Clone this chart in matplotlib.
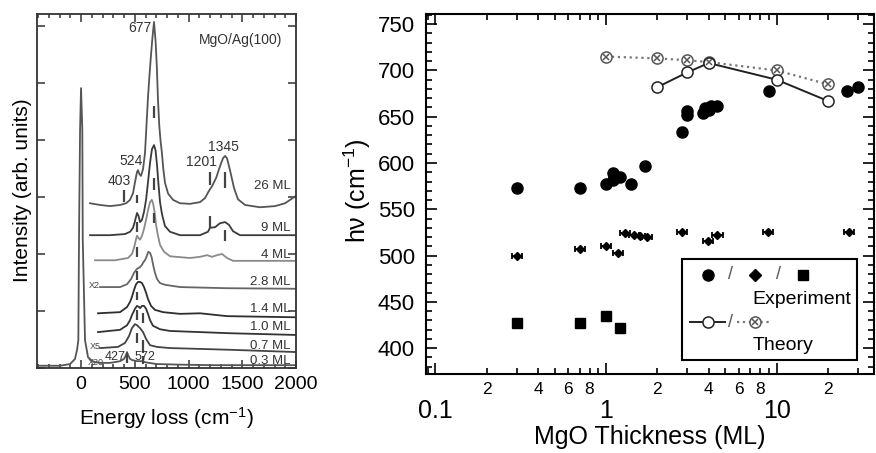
import numpy as np
import matplotlib
matplotlib.use('Agg')
import matplotlib.pyplot as plt
from matplotlib.patches import Rectangle
from matplotlib.ticker import MultipleLocator, LogLocator, FuncFormatter, NullFormatter

plt.rcParams['font.family'] = ['Liberation Sans', 'DejaVu Sans']
plt.rcParams['mathtext.fontset'] = 'custom'
plt.rcParams['mathtext.rm'] = 'Liberation Sans'
plt.rcParams['mathtext.it'] = 'Liberation Sans:italic'
plt.rcParams['mathtext.bf'] = 'Liberation Sans:bold'

# ---- left panel: loss spectra (energy loss in cm-1, offset intensity in arb. units)
E_03 = [-410, -195, -102, -56, -37, -25, -19, -9, 0, 12, 16, 37, 65, 112, 177, 270, 363, 400,
        419, 428, 437, 456, 475, 521, 572, 600, 700, 900, 1200, 1500, 2000]
I_03 = [0.04, 0.04, 0.07, 0.16, 0.32, 0.49, 2.25, 4.18, 4.91, 4.18, 2.25, 0.49, 0.19, 0.11, 0.09,
        0.09, 0.12, 0.16, 0.23, 0.28, 0.23, 0.16, 0.14, 0.12, 0.12, 0.10, 0.07, 0.06, 0.05, 0.05, 0.05]

E_07 = [177, 344, 409, 446, 474, 502, 521, 549, 577, 605, 642, 707, 828, 1386, 2000]
I_07 = [0.35, 0.37, 0.44, 0.56, 0.70, 0.77, 0.75, 0.70, 0.63, 0.51, 0.40, 0.37, 0.35, 0.32, 0.28]

E_10 = [158, 363, 428, 456, 474, 502, 521, 540, 549, 567, 586, 605, 623, 642, 670, 735, 828, 1386, 2000]
I_10 = [0.63, 0.67, 0.75, 0.84, 0.93, 1.04, 1.09, 1.07, 1.05, 1.09, 1.09, 1.04, 0.95, 0.84, 0.74,
        0.68, 0.65, 0.61, 0.58]

E_14 = [158, 363, 428, 456, 474, 493, 512, 530, 549, 567, 586, 605, 623, 651, 688, 763, 921, 1107, 1358, 2000]
I_14 = [0.96, 0.98, 1.07, 1.16, 1.25, 1.37, 1.47, 1.51, 1.51, 1.49, 1.42, 1.32, 1.21, 1.09, 1.02,
        0.98, 0.95, 0.96, 0.91, 0.89]

E_28 = [177, 363, 428, 465, 493, 521, 549, 567, 581, 595, 611, 626, 642, 656, 673, 688, 707, 735,
        781, 921, 1358, 2000]
I_28 = [1.42, 1.42, 1.47, 1.56, 1.67, 1.74, 1.77, 1.81, 1.86, 1.89, 1.96, 2.04, 2.02, 1.95, 1.79,
        1.67, 1.56, 1.49, 1.46, 1.42, 1.40, 1.39]

E_4 = [130, 316, 437, 474, 493, 512, 521, 535, 549, 567, 586, 605, 623, 642, 658, 670, 684, 698,
       716, 735, 772, 828, 1014, 1107, 1172, 1219, 1265, 1312, 1358, 1414, 2000]
I_4 = [1.89, 1.89, 1.93, 2.00, 2.11, 2.26, 2.32, 2.28, 2.25, 2.32, 2.44, 2.60, 2.77, 2.91, 2.95,
       2.89, 2.74, 2.51, 2.32, 2.16, 2.04, 1.96, 1.93, 1.95, 1.98, 1.95, 1.98, 2.00, 1.93, 1.88, 1.88]

E_9 = [84, 270, 409, 456, 484, 502, 521, 535, 549, 567, 586, 605, 623, 642, 660, 679, 693, 707,
       721, 735, 753, 781, 828, 921, 1107, 1181, 1200, 1247, 1293, 1340, 1377, 1414, 1479, 2000]
I_9 = [2.33, 2.33, 2.35, 2.39, 2.46, 2.58, 2.72, 2.67, 2.56, 2.60, 2.74, 2.95, 3.26, 3.60, 3.84,
       3.91, 3.82, 3.56, 3.21, 2.91, 2.70, 2.49, 2.39, 2.33, 2.33, 2.39, 2.46, 2.47, 2.54, 2.56,
       2.51, 2.40, 2.33, 2.33]

E_26 = [84, 177, 270, 363, 419, 456, 484, 502, 521, 530, 544, 558, 577, 595, 609, 623, 637, 651,
        665, 679, 693, 705, 716, 728, 740, 751, 765, 781, 810, 856, 921, 1014, 1107, 1153, 1191,
        1219, 1256, 1293, 1321, 1340, 1358, 1386, 1423, 1460, 1526, 1665, 1805, 1898, 2000]
I_26 = [2.89, 2.86, 2.84, 2.86, 2.89, 2.95, 3.07, 3.26, 3.44, 3.47, 3.40, 3.37, 3.49, 3.77, 4.26,
        4.75, 5.14, 5.49, 5.81, 6.07, 5.75, 5.30, 4.70, 4.25, 3.98, 3.80, 3.50, 3.25, 3.06, 2.95,
        2.89, 2.88, 2.91, 2.98, 3.11, 3.19, 3.33, 3.54, 3.68, 3.72, 3.68, 3.47, 3.16, 2.96, 2.86,
        2.82, 2.84, 2.89, 3.02]

# short vertical marks at the assigned losses
mark_e = [400, 521, 679, 1200, 1340, 521, 679, 1200, 1340, 521, 679, 521, 521, 521, 572, 521, 572, 428, 572]
mark_lo = [2.91, 2.89, 4.39, 3.21, 3.16, 2.39, 3.12, 2.46, 2.23, 1.95, 2.54, 1.54, 1.19, 0.84, 0.79,
           0.44, 0.26, 0.09, 0.07]
mark_hi = [3.12, 3.04, 4.60, 3.44, 3.44, 2.56, 3.33, 2.67, 2.42, 2.12, 2.72, 1.70, 1.33, 1.02, 0.96,
           0.61, 0.49, 0.26, 0.21]

peak_labels = ['677', '524', '403', '1201', '1345', '427', '572']
peak_label_e = [549, 465, 353, 1116, 1321, 316, 595]
peak_label_i = [5.96, 3.63, 3.28, 3.61, 3.88, 0.19, 0.19]

ml_labels = ['26 ML', '9 ML', '4 ML', '2.8 ML', '1.4 ML', '1.0 ML', '0.7 ML', '0.3 ML']
ml_label_i = [3.19, 2.46, 1.98, 1.51, 1.04, 0.72, 0.39, 0.12]

gain_labels = ['X2', 'X5', 'X20']
gain_label_e = [121, 130, 140]
gain_label_i = [1.44, 0.37, 0.09]

# ---- right panel: mode energy vs MgO thickness
thick_circ = [0.3, 0.7, 1.0, 1.1, 1.1, 1.2, 1.4, 1.7, 2.8, 3.0, 3.0, 3.7, 3.8, 4.0, 4.1, 4.5, 9.0, 26, 30]
hv_circ = [573, 573, 577, 589, 582, 585, 577, 597, 633, 652, 656, 654, 659, 657, 662, 662, 678, 678, 682]

thick_diam = [0.3, 0.7, 1.0, 1.18, 1.29, 1.45, 1.58, 1.73, 2.8, 3.97, 4.5, 8.85, 26.5]
hv_diam = [500, 507, 510, 503, 524, 522, 521, 520, 525, 516, 522, 525, 525]

thick_sq = [0.3, 0.7, 1.0, 1.2]
hv_sq = [427, 427, 435, 422]

thick_th1 = [2, 3, 4, 10, 20]
hv_th1 = [682, 698, 708, 690, 667]

thick_th2 = [1, 2, 3, 4, 10, 20]
hv_th2 = [715, 713, 711, 709, 700, 685]

XERR_FACTOR = 1.07

fig = plt.figure(figsize=(8.76, 4.53), dpi=100)
ax1 = fig.add_axes([0.0422, 0.1876, 0.2957, 0.7815])
ax2 = fig.add_axes([0.4863, 0.1744, 0.5114, 0.7947])

# left panel
traces = [(E_26, I_26, '#555555'), (E_9, I_9, '#3a3a3a'), (E_4, I_4, '#8a8a8a'),
          (E_28, I_28, '#666666'), (E_14, I_14, '#2e2e2e'), (E_10, I_10, '#333333'),
          (E_07, I_07, '#444444'), (E_03, I_03, '#555555')]
for e, i, c in traces:
    ax1.plot(e, i, color=c, lw=1.3)
ax1.vlines(mark_e, mark_lo, mark_hi, color='#444444', lw=1.6)

for t, e, i in zip(peak_labels, peak_label_e, peak_label_i):
    fs = 9 if t in ('427', '572') else 10
    ax1.text(e, i, t, ha='center', va='center', fontsize=fs, color='#333333')
for t, i in zip(ml_labels, ml_label_i):
    ax1.text(1950, i, t, ha='right', va='center', fontsize=9.5, color='#333333')
for t, e, i in zip(gain_labels, gain_label_e, gain_label_i):
    ax1.text(e, i, t, ha='center', va='center', fontsize=6.5, color='#444444')
ax1.text(1480, 5.75, 'MgO/Ag(100)', ha='center', va='center', fontsize=10, color='#333333')

ax1.set_xlim(-410, 2000)
ax1.set_ylim(0, 6.21)
ax1.xaxis.set_major_locator(MultipleLocator(500))
ax1.xaxis.set_minor_locator(MultipleLocator(100))
ax1.yaxis.set_major_locator(MultipleLocator(1))
ax1.yaxis.set_major_formatter(NullFormatter())
ax1.tick_params(which='both', direction='in', top=True, right=True, color='#333333', width=1.1)
ax1.tick_params(which='major', length=6, labelsize=14, pad=6)
ax1.tick_params(which='minor', length=3)
for s in ax1.spines.values():
    s.set_linewidth(1.3)
    s.set_color('#333333')
ax1.set_xlabel('Energy loss (cm$^{-1}$)', fontsize=15)
ax1.set_ylabel('Intensity (arb. units)', fontsize=15)
ax1.xaxis.set_label_coords(0.5, -0.105)
ax1.yaxis.set_label_coords(-0.02, 0.503)

# right panel
ax2.set_xscale('log')
ax2.plot(thick_th2, hv_th2, ':', color='#777777', lw=1.6, zorder=2)
ax2.plot(thick_th2, hv_th2, 'o', color='#555555', mfc='white', ms=8, mew=1.1, zorder=3)
ax2.plot(thick_th2, hv_th2, 'x', color='#555555', ms=5, mew=1.1, zorder=4)
ax2.plot(thick_th1, hv_th1, '-o', color='#222222', mfc='white', ms=8, mew=1.1, lw=1.4, zorder=3)
ax2.plot(thick_circ, hv_circ, 'o', color='black', ms=8, ls='none', zorder=5)
td = np.array(thick_diam)
ax2.errorbar(td, hv_diam, xerr=[td - td / XERR_FACTOR, td * XERR_FACTOR - td], fmt='D',
             color='black', ms=4.5, elinewidth=1.3, capsize=2.3, capthick=1.3, zorder=5)
ax2.plot(thick_sq, hv_sq, 's', color='black', ms=7.5, ls='none', zorder=5)

ax2.set_xlim(0.088, 37.2)
ax2.set_ylim(372, 761)
ax2.xaxis.set_major_locator(LogLocator(base=10))
ax2.xaxis.set_minor_locator(LogLocator(base=10, subs=range(2, 10)))
ax2.xaxis.set_major_formatter(FuncFormatter(lambda v, p: '%g' % v))


def minor_label(v, pos):
    d = int(round(v / 10 ** np.floor(np.log10(v) + 1e-9)))
    return str(d) if d in (2, 4, 6, 8) else ''


ax2.xaxis.set_minor_formatter(FuncFormatter(minor_label))
ax2.yaxis.set_major_locator(MultipleLocator(50))
ax2.yaxis.set_minor_locator(MultipleLocator(10))
ax2.tick_params(which='both', direction='in', top=True, right=True, width=1.2)
ax2.tick_params(which='major', length=8, labelsize=15)
ax2.tick_params(which='minor', length=4)
ax2.tick_params(axis='x', which='major', pad=18, labelsize=18)
ax2.tick_params(axis='x', which='minor', pad=6, labelsize=12.5)
ax2.tick_params(axis='y', which='major', pad=8, labelsize=16)
for s in ax2.spines.values():
    s.set_linewidth(1.5)
ax2.set_xlabel('MgO Thickness (ML)', fontsize=18)
ax2.set_ylabel('h\u03bd (cm$^{-1}$)', fontsize=18)
ax2.xaxis.set_label_coords(0.5, -0.142)
ax2.yaxis.set_label_coords(-0.118, 0.51)

# legend box, drawn by hand to keep the stacked layout
tr = ax2.transAxes
ax2.add_patch(Rectangle((0.571, 0.039), 0.391, 0.280, transform=tr, fc='white', ec='black',
                        lw=1.5, zorder=6))
ax2.plot([0.629], [0.275], 'o', color='black', ms=8, transform=tr, zorder=7)
ax2.plot([0.734], [0.275], 'D', color='black', ms=6, transform=tr, zorder=7)
ax2.plot([0.842], [0.275], 's', color='black', ms=7.5, transform=tr, zorder=7)
for xs in (0.679, 0.786):
    ax2.text(xs, 0.275, '/', transform=tr, ha='center', va='center', fontsize=13, color='#555555', zorder=7)
ax2.text(0.728, 0.208, 'Experiment', transform=tr, ha='left', va='center', fontsize=14, zorder=7)
ax2.plot([0.589, 0.667], [0.144, 0.144], '-', color='#222222', lw=1.4, transform=tr, zorder=7)
ax2.plot([0.629], [0.144], 'o', color='#222222', mfc='white', ms=8, mew=1.1, transform=tr, zorder=8)
ax2.text(0.679, 0.144, '/', transform=tr, ha='center', va='center', fontsize=13, color='#555555', zorder=7)
ax2.plot([0.694, 0.772], [0.144, 0.144], ':', color='#777777', lw=1.6, transform=tr, zorder=7)
ax2.plot([0.734], [0.144], 'o', color='#555555', mfc='white', ms=8, mew=1.1, transform=tr, zorder=8)
ax2.plot([0.734], [0.144], 'x', color='#555555', ms=5, mew=1.1, transform=tr, zorder=9)
ax2.text(0.728, 0.078, 'Theory', transform=tr, ha='left', va='center', fontsize=14, zorder=7)

fig.savefig('out.png', dpi=100)
